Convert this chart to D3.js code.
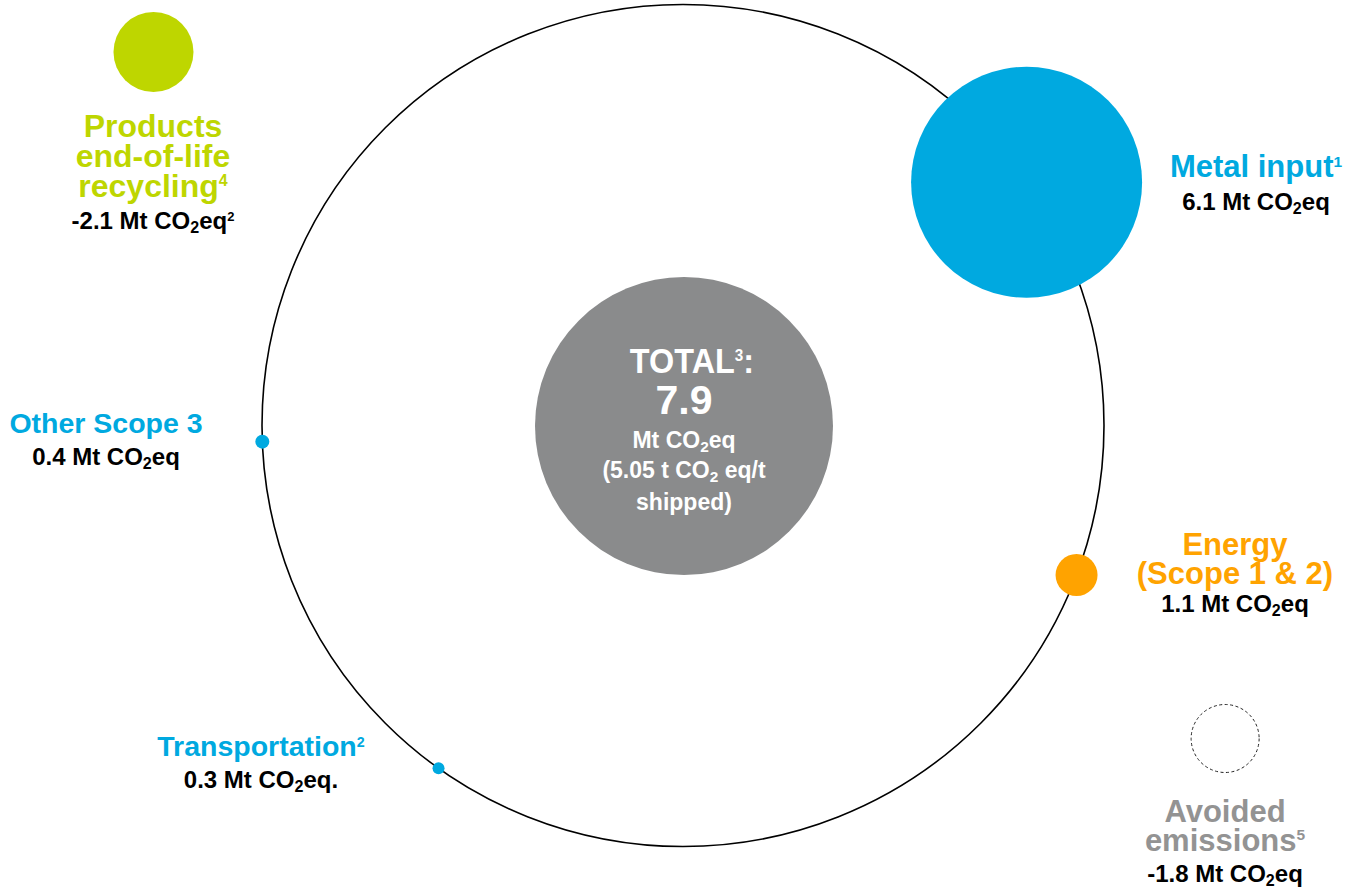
<!DOCTYPE html>
<html>
<head>
<meta charset="utf-8">
<script src="https://cdn.jsdelivr.net/npm/d3@7"></script>
<style>
  body { margin: 0; background: #fff; }
  svg { display: block; font-family: "Liberation Sans", Arial, sans-serif; font-weight: bold; }
</style>
</head>
<body>
<svg width="1359" height="893"></svg>
<script>
// emission sources, Mt CO2eq
var categories = ["Metal input", "Energy", "Transportation", "Other Scope 3", "Products end-of-life recycling", "Avoided emissions"];
var values = [6.1, 1.1, 0.3, 0.4, -2.1, -1.8];
var footnotes = ["1", "", "2", "", "4", "5"];
var valueFootnotes = ["", "", "", "", "2", ""];
var labelLines = [["Metal input"], ["Energy", "(Scope 1 & 2)"], ["Transportation"], ["Other Scope 3"], ["Products", "end-of-life", "recycling"], ["Avoided", "emissions"]];
var valueEndings = ["", "", ".", "", "", ""];
var totalValue = 7.9;
var totalFootnote = "3";
var intensity = 5.05;

var svg = d3.select("svg"),
    cx = 683, cy = 425.5, ringR = 421;

// plain hyphen for negatives, like the slide
var fmt = d3.formatLocale({ decimal: ".", thousands: ",", grouping: [3], currency: ["", ""], minus: "-" }).format(".1f");

var color = d3.scaleOrdinal()
    .domain(categories)
    .range(["#00a9e0", "#ffa300", "#00a9e0", "#00a9e0", "#bed600", "none"]);

var textColor = d3.scaleOrdinal()
    .domain(categories)
    .range(["#00a9e0", "#ffa300", "#00a9e0", "#00a9e0", "#bed600", "#939393"]);

// bubble size from |value|
var radius = d3.scaleLinear()
    .domain([0.3, 0.4, 1.1, 1.8, 2.1, 6.1, 7.9])
    .range([6, 7, 21, 34, 40, 115.5, 149]);

// where each source sits around the ring (degrees, svg orientation)
var angle = d3.scaleOrdinal()
    .domain(categories)
    .range([-35.3, 20.8, 125.5, 177.8, -144.8, 30]);

var dist = function(d) { return d.value < 0 ? (d.name === "Avoided emissions" ? 626 : 648) : ringR; };

var data = categories.map(function(c, i) {
  return { name: c, value: values[i], note: footnotes[i], vnote: valueFootnotes[i], lines: labelLines[i], end: valueEndings[i] };
});
data.forEach(function(d) {
  var a = angle(d.name) * Math.PI / 180;
  d.x = cx + dist(d) * Math.cos(a);
  d.y = cy + dist(d) * Math.sin(a);
});

// label anchors: centre x, first baseline, line step, value baseline, font size
var labelPos = {
  "Metal input":                    { x: 1256, y: 177, step: 30, vy: 210, size: 31 },
  "Energy":                         { x: 1235, y: 555, step: 28.5, vy: 612, size: 31 },
  "Transportation":                 { x: 261,  y: 756, step: 30, vy: 788, size: 28.5 },
  "Other Scope 3":                  { x: 106,  y: 433, step: 30, vy: 465, size: 28.5 },
  "Products end-of-life recycling": { x: 153,  y: 137, step: 30, vy: 229, size: 32 },
  "Avoided emissions":              { x: 1225, y: 822, step: 28.5, vy: 882, size: 31 }
};

function richText(x, y, segs, size, fill, supSize) {
  var t = svg.append("text")
      .attr("x", x)
      .attr("y", y)
      .attr("text-anchor", "middle")
      .style("font-size", size + "px")
      .attr("fill", fill);
  var shift = 0;
  segs.forEach(function(s) {
    var target = 0, fs = size;
    if (typeof s !== "string") {
      if (s.sub) { target = size * 0.16; fs = size * 0.67; }
      if (s.sup) { target = -size * 0.33; fs = supSize || Math.max(13, size * 0.5); }
      s = s.sub || s.sup;
    }
    t.append("tspan")
        .attr("dy", target - shift)
        .style("font-size", fs + "px")
        .text(s);
    shift = target;
  });
  return t;
}

// ring
svg.append("circle")
    .attr("cx", cx)
    .attr("cy", cy)
    .attr("r", ringR)
    .attr("fill", "none")
    .attr("stroke", "#000")
    .attr("stroke-width", 1.6);

// total bubble
svg.append("circle")
    .attr("cx", 684)
    .attr("cy", 426)
    .attr("r", radius(totalValue))
    .attr("fill", "#8a8b8c");

richText(0, 0, ["TOTAL", { sup: totalFootnote }, ":"], 36, "#fff", 17)
    .attr("transform", "translate(692,373) scale(0.9,1)");
richText(684, 414, [String(totalValue)], 41, "#fff");
richText(684, 448, ["Mt CO", { sub: "2" }, "eq"], 23, "#fff");
richText(684, 478, ["(" + intensity.toFixed(2) + " t CO", { sub: "2" }, " eq/t"], 23, "#fff");
richText(684, 510, ["shipped)"], 23, "#fff");

// source bubbles
svg.selectAll("circle.source")
  .data(data)
  .enter().append("circle")
    .attr("class", "source")
    .attr("cx", function(d) { return d.x; })
    .attr("cy", function(d) { return d.y; })
    .attr("r", function(d) { return radius(Math.abs(d.value)); })
    .attr("fill", function(d) { return color(d.name); })
    .attr("stroke", function(d) { return d.name === "Avoided emissions" ? "#222" : "none"; })
    .attr("stroke-width", 1)
    .attr("stroke-dasharray", function(d) { return d.name === "Avoided emissions" ? "3,2.5" : null; });

// labels
data.forEach(function(d) {
  var p = labelPos[d.name];
  d.lines.forEach(function(line, i) {
    var segs = [line];
    if (i === d.lines.length - 1 && d.note) segs.push({ sup: d.note });
    richText(p.x, p.y + i * p.step, segs, p.size, textColor(d.name));
  });
  var vsegs = [fmt(d.value) + " Mt CO", { sub: "2" }, "eq" + d.end];
  if (d.vnote) vsegs.push({ sup: d.vnote });
  richText(p.x, p.vy, vsegs, 24, "#000");
});
</script>
</body>
</html>
